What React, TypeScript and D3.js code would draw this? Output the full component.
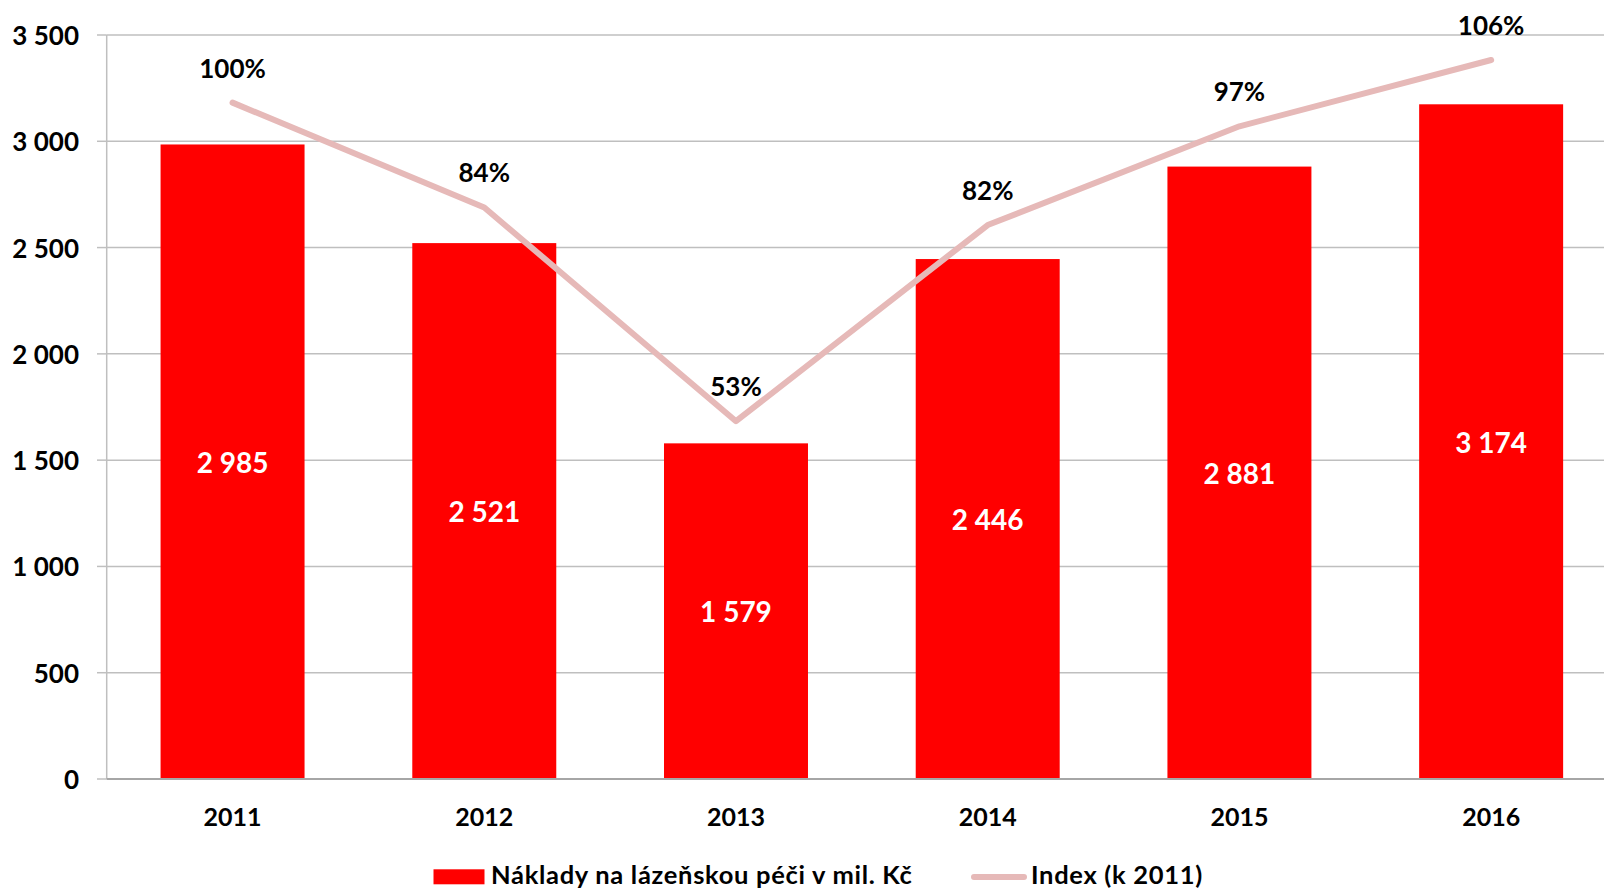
import React from "react";
import * as d3 from "d3";

const years = ["2011", "2012", "2013", "2014", "2015", "2016"];
const costs = [2985, 2521, 1579, 2446, 2881, 3174];
const indexValues = [1.0, 0.845, 0.529, 0.819, 0.965, 1.063];
const indexLabels = ["100%", "84%", "53%", "82%", "97%", "106%"];
const yTicks = [0, 500, 1000, 1500, 2000, 2500, 3000, 3500];
const legendBarLabel = "Náklady na lázeňskou péči v mil. Kč";
const legendLineLabel = "Index (k 2011)";

const W = 1604;
const H = 891;
const FONT = "Lato, 'Open Sans', sans-serif";

export default function App() {
  if (typeof document !== "undefined") document.body.style.margin = "0";
  const plotLeft = 106.7;
  const plotRight = 1617;
  const plotTop = 35;
  const plotBottom = 779;

  const x = d3
    .scaleBand<string>()
    .domain(years)
    .range([plotLeft, plotRight])
    .paddingInner(0.428)
    .paddingOuter(0.214);
  const y = d3.scaleLinear().domain([0, 3500]).range([plotBottom, plotTop]);
  const y2 = d3.scaleLinear().domain([0, 1.1]).range([plotBottom, plotTop]);
  const fmt = (v: number) => d3.format(",")(v).replace(/,/g, " ");

  const cx = (yr: string) => (x(yr) as number) + x.bandwidth() / 2;
  const line = d3
    .line<number>()
    .x((_, i) => cx(years[i]))
    .y((d) => y2(d));

  return (
    <svg width={W} height={H} style={{ display: "block", background: "#fff" }}>
      {/* gridlines */}
      {yTicks.map((t) => (
        <g key={t}>
          {t > 0 && (
            <line x1={plotLeft} x2={W} y1={y(t)} y2={y(t)} stroke="#BFBFBF" strokeWidth={1.5} />
          )}
          <line x1={97} x2={plotLeft} y1={y(t)} y2={y(t)} stroke="#BFBFBF" strokeWidth={1.5} />
          <text
            x={79}
            y={y(t)}
            textAnchor="end"
            dominantBaseline="central"
            fontFamily={FONT}
            fontWeight={700}
            fontSize={26}
            fill="#000"
          >
            {fmt(t)}
          </text>
        </g>
      ))}
      <line x1={plotLeft} x2={plotLeft} y1={plotTop} y2={plotBottom} stroke="#BFBFBF" strokeWidth={1.5} />

      {/* bars */}
      {costs.map((v, i) => (
        <rect
          key={years[i]}
          x={x(years[i])}
          y={y(v)}
          width={x.bandwidth()}
          height={plotBottom - y(v)}
          fill="#FF0000"
        />
      ))}
      <line x1={plotLeft} x2={W} y1={plotBottom} y2={plotBottom} stroke="#A6A6A6" strokeWidth={2} />

      {/* bar labels */}
      {costs.map((v, i) => (
        <text
          key={"l" + years[i]}
          x={cx(years[i])}
          y={(y(v) + plotBottom) / 2}
          textAnchor="middle"
          dominantBaseline="central"
          fontFamily={FONT}
          fontWeight={700}
          fontSize={28}
          fill="#fff"
        >
          {fmt(v)}
        </text>
      ))}

      {/* index line */}
      <path
        d={line(indexValues) || ""}
        fill="none"
        stroke="#E6B9B8"
        strokeWidth={6}
        strokeLinecap="round"
        strokeLinejoin="round"
      />
      {indexValues.map((v, i) => (
        <text
          key={"p" + years[i]}
          x={cx(years[i])}
          y={y2(v) - 35}
          textAnchor="middle"
          dominantBaseline="central"
          fontFamily={FONT}
          fontWeight={700}
          fontSize={26}
          fill="#000"
        >
          {indexLabels[i]}
        </text>
      ))}

      {/* x labels */}
      {years.map((yr) => (
        <text
          key={"x" + yr}
          x={cx(yr)}
          y={816}
          textAnchor="middle"
          dominantBaseline="central"
          fontFamily={FONT}
          fontWeight={700}
          fontSize={25}
          fill="#000"
        >
          {yr}
        </text>
      ))}

      {/* legend */}
      <rect x={433.5} y={869.3} width={51} height={15} fill="#FF0000" />
      <text
        x={491}
        y={884}
        fontFamily={FONT}
        fontWeight={700}
        fontSize={25.5}
        letterSpacing={0.7}
        fill="#000"
      >
        {legendBarLabel}
      </text>
      <line x1={974} x2={1024} y1={877} y2={877} stroke="#E6B9B8" strokeWidth={6} strokeLinecap="round" />
      <text
        x={1031}
        y={884}
        fontFamily={FONT}
        fontWeight={700}
        fontSize={25.5}
        letterSpacing={0.7}
        fill="#000"
      >
        {legendLineLabel}
      </text>
    </svg>
  );
}
